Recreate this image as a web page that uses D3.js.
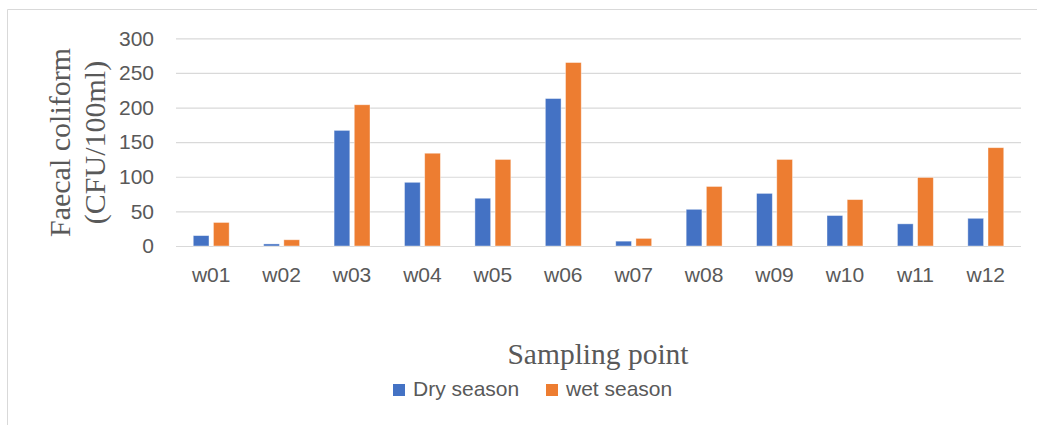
<!DOCTYPE html>
<html>
<head>
<meta charset="utf-8">
<script src="https://cdn.jsdelivr.net/npm/d3@7"></script>
<style>
  html, body { margin: 0; padding: 0; background: #fff; }
  svg { display: block; }
</style>
</head>
<body>
<svg id="chart" width="1037" height="425"></svg>
<script>
// Faecal coliform counts per sampling point, dry vs wet season
const categories = ["w01","w02","w03","w04","w05","w06","w07","w08","w09","w10","w11","w12"];
const drySeason = [15, 3, 167, 92, 69, 213, 7, 53, 76, 44, 32, 40];
const wetSeason = [34, 9, 204, 134, 125, 265, 11, 86, 125, 67, 99, 142];
const seriesNames = ["Dry season", "wet season"];
const seriesColors = ["#4472C4", "#ED7D31"];
const yTicks = [0, 50, 100, 150, 200, 250, 300];

const svg = d3.select("#chart");
const W = 1037, H = 425;

// chart frame (left and top edges visible)
svg.append("path")
  .attr("d", `M7.5,${H} L7.5,9.5 L${W},9.5`)
  .attr("fill", "none")
  .attr("stroke", "#d9d9d9")
  .attr("stroke-width", 1);

const plot = { left: 176, right: 1021, top: 38.3, bottom: 246 };

const y = d3.scaleLinear().domain([0, 300]).range([plot.bottom, plot.top]);
const x0 = d3.scaleBand().domain(categories).range([plot.left, plot.right])
  .paddingInner(0.49).paddingOuter(0.245);
const x1 = d3.scaleBand().domain(seriesNames).range([0, x0.bandwidth()])
  .paddingInner(0.22).paddingOuter(0);

// gridlines and value labels
const yAxis = d3.axisLeft(y).tickValues(yTicks).tickSize(-(plot.right - plot.left)).tickPadding(22);
const gy = svg.append("g").attr("transform", `translate(${plot.left},0)`).call(yAxis);
gy.select(".domain").remove();
gy.selectAll(".tick line").attr("stroke", "#d9d9d9").attr("stroke-width", 1.2);
gy.selectAll(".tick text")
  .attr("fill", "#595959")
  .attr("font-family", "'Liberation Sans', Arial, sans-serif")
  .attr("font-size", 21);

// category labels
const xAxis = d3.axisBottom(x0).tickSize(0).tickPadding(21);
const gx = svg.append("g").attr("transform", `translate(0,${plot.bottom})`).call(xAxis);
gx.select(".domain").remove();
gx.selectAll(".tick text")
  .attr("fill", "#595959")
  .attr("font-family", "'Liberation Sans', Arial, sans-serif")
  .attr("font-size", 21);

// bars
const rows = categories.map((c, i) => ({ cat: c, vals: [drySeason[i], wetSeason[i]] }));
const groups = svg.append("g").selectAll("g").data(rows).join("g")
  .attr("transform", d => `translate(${x0(d.cat)},0)`);
groups.selectAll("rect")
  .data(d => d.vals.map((v, k) => ({ name: seriesNames[k], value: v, k })))
  .join("rect")
  .attr("x", d => x1(d.name))
  .attr("width", x1.bandwidth())
  .attr("y", d => y(d.value))
  .attr("height", d => y(0) - y(d.value))
  .attr("fill", d => seriesColors[d.k])
  .attr("stroke", "#ffffff")
  .attr("stroke-opacity", 0.5)
  .attr("stroke-width", 0.8);

// axis titles
const serif = "'Liberation Serif', 'Times New Roman', serif";
const yTitle = svg.append("text")
  .attr("transform", "translate(70,142.5) rotate(-90)")
  .attr("text-anchor", "middle")
  .attr("fill", "#595959")
  .attr("font-family", serif)
  .attr("font-size", 30);
yTitle.append("tspan").attr("x", 0).attr("y", 0).text("Faecal coliform");
yTitle.append("tspan").attr("x", 0).attr("y", 35).text("(CFU/100ml)");

svg.append("text")
  .attr("x", 598).attr("y", 364)
  .attr("text-anchor", "middle")
  .attr("fill", "#595959")
  .attr("font-family", serif)
  .attr("font-size", 29.5)
  .text("Sampling point");

// legend
const legendX = [393, 546];
const legend = svg.append("g").selectAll("g").data(seriesNames).join("g")
  .attr("transform", (d, i) => `translate(${legendX[i]},384)`);
legend.append("rect").attr("width", 12).attr("height", 12)
  .attr("fill", (d, i) => seriesColors[i]);
legend.append("text")
  .attr("x", 20).attr("y", 12)
  .attr("fill", "#595959")
  .attr("font-family", "'Liberation Sans', Arial, sans-serif")
  .attr("font-size", 21)
  .text(d => d);
</script>
</body>
</html>
